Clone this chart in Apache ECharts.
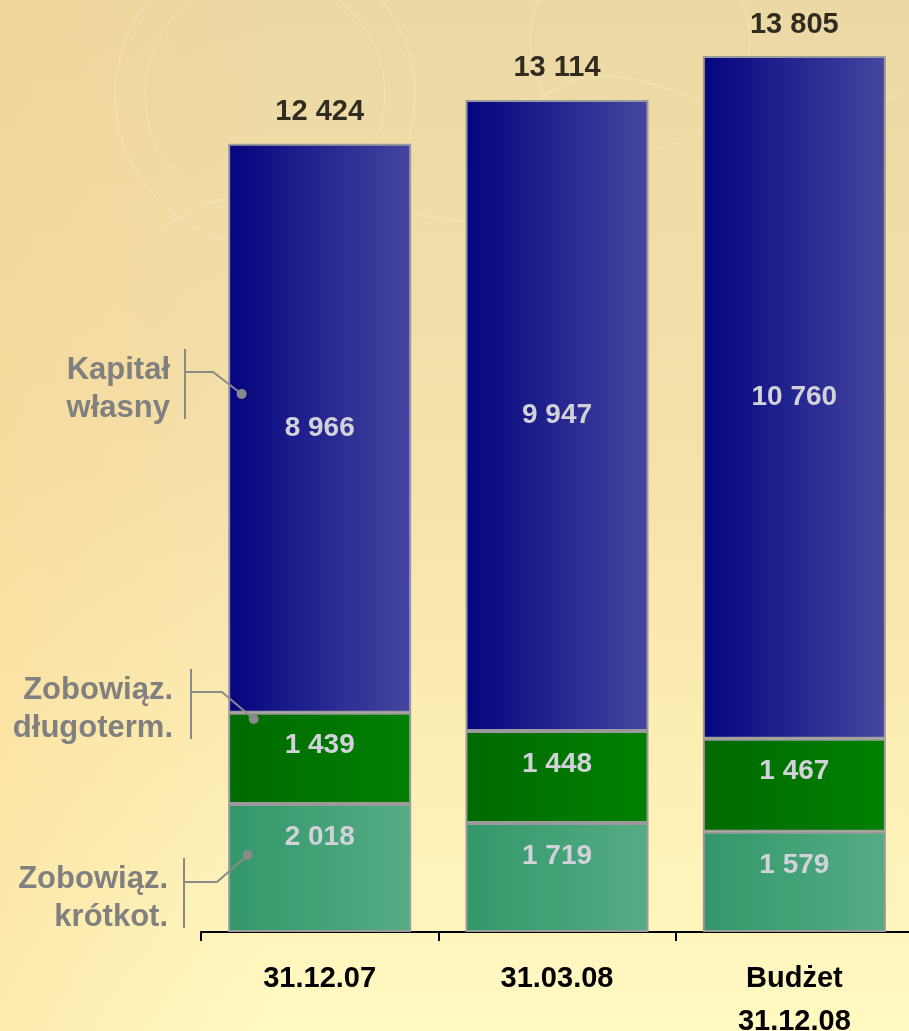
<!DOCTYPE html>
<html><head><meta charset="utf-8">
<script src="https://cdn.jsdelivr.net/npm/echarts@6/dist/echarts.min.js"></script>
<style>
html,body{margin:0;padding:0;overflow:hidden;}
#c{width:909px;height:1031px;
background:
 linear-gradient(to right, rgba(250,210,140,0.35) 0%, rgba(250,210,140,0) 30%),
 linear-gradient(to bottom, #ecd8a4 0%, #f5e1aa 45%, #fdefb5 75%, #fff9c2 100%);}
</style></head><body><div id="c"></div>
<script>
// ---- data ----
const categories = ['31.12.07', '31.03.08', 'Budżet\n31.12.08'];
const shortTerm = [2018, 1719, 1579];     // Zobowiąz. krótkot.
const longTerm = [1439, 1448, 1467];      // Zobowiąz. długoterm.
const equity = [8966, 9947, 10760];       // Kapitał własny
const totals = [12424, 13114, 13805];
const seriesNames = ['Zobowiąz. krótkot.', 'Zobowiąz. długoterm.', 'Kapitał własny'];
const annotationLabels = ['Kapitał\nwłasny', 'Zobowiąz.\ndługoterm.', 'Zobowiąz.\nkrótkot.'];

function fmt(v){ return String(v).replace(/\B(?=(\d{3})+(?!\d))/g, ' '); }

const FONT = '"Liberation Sans", Arial, sans-serif';
const chart = echarts.init(document.getElementById('c'), null, {renderer:'canvas'});
const G = echarts.graphic;
const border = {borderColor:'#9a9a9a', borderWidth:2};
const innerLabel = {show:true, color:'#d2d2da', fontSize:28, fontWeight:'bold', fontFamily:FONT,
  formatter: p => fmt(p.value)};

chart.setOption({
  animation:false,
  grid:{left:201, top:31, width:712, height:901, containLabel:false, outerBoundsMode:'none'},
  xAxis:{type:'category', data:categories,
    axisLine:{lineStyle:{color:'#000', width:2}},
    axisTick:{show:true, length:9, lineStyle:{color:'#000', width:2}},
    axisLabel:{color:'#000', fontSize:29, fontWeight:'bold', fontFamily:FONT, margin:25, lineHeight:43}
  },
  yAxis:{type:'value', min:0, max:14200, show:false, splitLine:{show:false}},
  series:[
    {name:seriesNames[0], type:'bar', stack:'s', barWidth:183, data:shortTerm,
      itemStyle:Object.assign({color:new G.LinearGradient(0,0,1,0,[{offset:0,color:'#33976a'},{offset:1,color:'#55ac84'}])}, border),
      label:Object.assign({position:'insideTop', distance:19}, innerLabel)},
    {name:seriesNames[1], type:'bar', stack:'s', barWidth:183, data:longTerm,
      itemStyle:Object.assign({color:new G.LinearGradient(0,0,1,0,[{offset:0,color:'#006a00'},{offset:1,color:'#008000'}])}, border),
      label:Object.assign({position:'insideTop', distance:19}, innerLabel)},
    {name:seriesNames[2], type:'bar', stack:'s', barWidth:183, data:equity,
      itemStyle:Object.assign({color:new G.LinearGradient(0,0,1,0,[{offset:0,color:'#04047f'},{offset:1,color:'#4646a0'}])}, border),
      label:Object.assign({position:'inside'}, innerLabel)},
    {name:'Suma', type:'scatter', data:totals, symbolSize:0, silent:true,
      label:{show:true, position:'top', distance:17, color:'#000', fontSize:29, fontWeight:'bold', fontFamily:FONT,
        formatter:p => fmt(p.value)}}
  ]
});

// annotation callouts (anchored to first bar through the axes)
const anchors = [
  {v:8480, dx:-78, text:annotationLabels[0], tx:170, ty:389, vx:185, vy0:349, vy1:419, hy:372, hx1:213},
  {v:3357, dx:-66, text:annotationLabels[1], tx:173, ty:709, vx:191, vy0:669, vy1:739, hy:692, hx1:222},
  {v:1214, dx:-72, text:annotationLabels[2], tx:168, ty:898, vx:184, vy0:858, vy1:928, hy:882, hx1:217}
];
const gray = '#8a8a8a';
const wm = 'rgba(255,248,215,0.22)';
const graphics = [
  // faint background watermark swirls
  {type:'circle', z:-10, silent:true, shape:{cx:265, cy:95, r:150}, style:{stroke:wm, lineWidth:2, fill:null}},
  {type:'circle', z:-10, silent:true, shape:{cx:265, cy:95, r:120}, style:{stroke:wm, lineWidth:1.5, fill:null}},
  {type:'circle', z:-10, silent:true, shape:{cx:640, cy:40, r:110}, style:{stroke:wm, lineWidth:2, fill:null}},
  {type:'bezierCurve', z:-10, silent:true, shape:{x1:160, y1:230, x2:620, y2:180, cpx1:300, cpy1:120, cpx2:480, cpy2:300}, style:{stroke:wm, lineWidth:2, fill:null}},
  {type:'bezierCurve', z:-10, silent:true, shape:{x1:520, y1:120, x2:900, y2:90, cpx1:620, cpy1:-10, cpx2:760, cpy2:200}, style:{stroke:wm, lineWidth:2, fill:null}}
];
anchors.forEach(a => {
  const p = chart.convertToPixel({xAxisIndex:0, yAxisIndex:0}, [0, a.v]);
  const dotX = p[0] + a.dx, dotY = p[1];
  graphics.push({type:'text', z:10, style:{text:a.text, x:a.tx, y:a.ty, textAlign:'right', textVerticalAlign:'middle',
    fill:'#808080', font:'bold 31px ' + FONT, lineHeight:38}});
  graphics.push({type:'line', z:10, shape:{x1:a.vx, y1:a.vy0, x2:a.vx, y2:a.vy1}, style:{stroke:gray, lineWidth:2}});
  graphics.push({type:'polyline', z:10, shape:{points:[[a.vx, a.hy],[a.hx1, a.hy],[dotX, dotY]]}, style:{stroke:gray, lineWidth:2, fill:null}});
  graphics.push({type:'circle', z:11, shape:{cx:dotX, cy:dotY, r:5}, style:{fill:gray}});
});
chart.setOption({graphic:graphics});
</script></body></html>
